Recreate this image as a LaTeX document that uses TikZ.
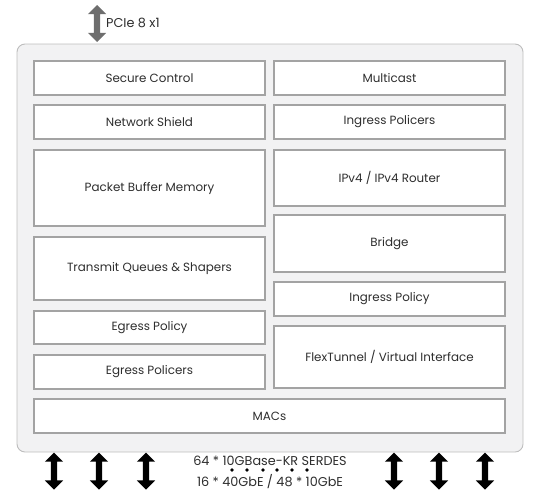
\documentclass[tikz,border=0pt]{standalone}
\usepackage{fontspec}
\setmainfont{Poppins}
\usetikzlibrary{shapes.arrows}
\definecolor{outerfill}{HTML}{F2F2F3}
\definecolor{outerdraw}{HTML}{BDBDBD}
\definecolor{boxdraw}{HTML}{A3A3A3}
\definecolor{txt}{HTML}{2E2E2E}
\definecolor{pcie}{HTML}{6E6E6E}
\tikzset{
  blk/.style={draw=boxdraw, line width=1.7pt, fill=white},
  darrow/.style={double arrow, rotate=90, inner sep=3pt, double arrow head extend=6pt, minimum height=37pt, draw=none},
  lbl/.style={text=txt, font=\fontsize{11.9}{13}\selectfont, inner sep=0pt},
  biglbl/.style={lbl, font=\fontsize{12.8}{14}\selectfont},
  dotn/.style={circle, fill=black, inner sep=0pt, minimum size=3.6pt}
}
\newcommand{\blkbox}[6]{% name, x1, y1, x2, y2, text
  \path[blk] (#2,#3) rectangle (#4,#5);
  \node[lbl] (#1) at ({(#2+#4)/2},{(#3+#5)/2}) {#6};
}
\begin{document}
\begin{tikzpicture}[x=1pt,y=-1pt]
\useasboundingbox (0,0) rectangle (534,498);
\draw[outerdraw, fill=outerfill, rounded corners=8pt, line width=0.9pt] (17,44) rectangle (523,452);
% left column
\blkbox{sc}{34}{61}{265}{95}{Secure Control}
\blkbox{ns}{34}{105}{265}{139}{Network Shield}
\blkbox{pbm}{34}{150}{265}{226}{Packet Buffer Memory}
\blkbox{tq}{34}{237}{265}{300}{Transmit Queues \& Shapers}
\blkbox{ep}{34}{311}{265}{344}{Egress Policy}
\blkbox{epo}{34}{355}{265}{389}{Egress Policers}
% right column
\blkbox{mc}{274}{61}{505}{95}{Multicast}
\blkbox{ipo}{274}{105}{505}{139}{Ingress Policers}
\blkbox{ipr}{274}{150}{505}{206}{IPv4 / IPv4 Router}
\blkbox{br}{274}{215}{505}{272}{Bridge}
\blkbox{ip}{274}{282}{505}{316}{Ingress Policy}
\blkbox{ft}{274}{326}{505}{388}{FlexTunnel / Virtual Interface}
% MACs
\blkbox{mac}{34}{399}{505}{433}{MACs}
% PCIe
\node[darrow, fill=pcie] (pa) at (97,23.5) {};
\node[biglbl, anchor=west] (pl) at (106,23) {PCIe 8 x1};
% bottom arrows
\foreach \n/\x in {b1/54,b2/99,b3/146,b4/394,b5/439,b6/485}{
  \node[darrow, fill=black] (\n) at (\x,471) {};
}
\node[biglbl] (s1) at (270,461) {64 * 10GBase-KR SERDES};
\node[biglbl] (s2) at (270,481.5) {16 * 40GbE / 48 * 10GbE};
\foreach \n/\x in {d1/232,d2/247,d3/263,d4/277,d5/292,d6/307}{
  \node[dotn] (\n) at (\x,470) {};
}
\end{tikzpicture}
\end{document}
